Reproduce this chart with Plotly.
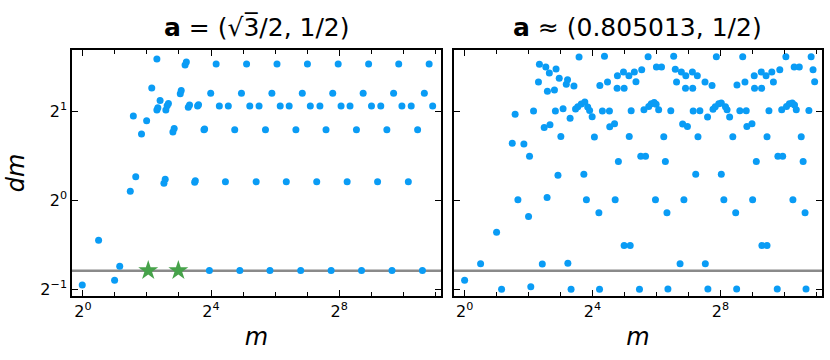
import numpy as np
import plotly.graph_objects as go
from plotly.subplots import make_subplots

# values, in log2 units (m, dm)
left_log2_m = [-0.02, 0.49, 0.99, 1.15, 1.48, 1.575, 1.65, 1.83, 1.99, 2.15, 2.31, 2.31, 2.34,
               2.41, 2.53, 2.57, 2.59, 2.63, 2.67, 2.81, 2.85, 3.04, 3.07, 3.19, 3.23, 3.29,
               3.33, 3.49, 3.51, 3.58, 3.61, 3.78, 3.80, 3.95, 3.99, 4.16, 4.26, 4.45, 4.54,
               4.74, 4.90, 4.95, 5.11, 5.21, 5.41, 5.50, 5.70, 5.84, 5.90, 6.06, 6.16, 6.35,
               6.44, 6.65, 6.80, 6.85, 7.01, 7.10, 7.30, 7.40, 7.59, 7.75, 7.80, 7.97, 8.06,
               8.25, 8.34, 8.54, 8.70, 8.75, 8.92, 9.01, 9.20, 9.30, 9.49, 9.65, 9.70, 9.86,
               9.96, 10.16, 10.25, 10.45, 10.60, 10.66, 10.81, 10.92]
left_log2_dm = [-0.952, -0.449, -0.899, -0.74, 0.10, 0.944, 0.262, 0.742, 0.891, 1.258, 1.584,
                1.011, 1.037, 1.119, 0.191, 0.234, 1.011, 1.06, 1.086, 0.764, 0.805, 1.194,
                1.232, 1.517, 1.55, 1.042, 1.067, 0.202, 0.217, 1.056, 1.071, 0.79, 0.80,
                -0.79, 1.2, 1.528, 1.056, 0.206, 1.056, 0.79, -0.79, 1.2, 1.528, 1.056, 0.206,
                1.056, 0.79, -0.79, 1.2, 1.528, 1.056, 0.206, 1.056, 0.79, -0.79, 1.2, 1.528,
                1.056, 0.206, 1.056, 0.79, -0.79, 1.2, 1.528, 1.056, 0.206, 1.056, 0.79,
                -0.79, 1.2, 1.528, 1.056, 0.206, 1.056, 0.79, -0.79, 1.2, 1.528, 1.056, 0.206,
                1.056, 0.79, -0.79, 1.2, 1.528, 1.056]

star_log2_m = [2.04, 2.98]
star_log2_dm = [-0.79, -0.79]

right_log2_m = [0.0, 0.5, 1.0, 1.156, 1.49, 1.58, 1.667, 1.854, 2.0, 2.03, 2.07, 2.156, 2.31,
                2.34, 2.43, 2.49, 2.54, 2.58, 2.59, 2.65, 2.67, 2.81, 2.84, 2.86, 2.92, 2.96,
                3.01, 3.08, 3.18, 3.22, 3.23, 3.30, 3.33, 3.42, 3.47, 3.54, 3.58, 3.65, 3.73,
                3.76, 3.81, 3.85, 3.91, 3.99, 4.06, 4.20, 4.22, 4.23, 4.31, 4.375, 4.47, 4.53,
                4.54, 4.69, 4.71, 4.77, 4.78, 4.81, 4.97, 4.99, 4.99, 5.14, 5.15, 5.18, 5.21,
                5.31, 5.36, 5.47, 5.51, 5.54, 5.66, 5.61, 5.74, 5.76, 5.84, 5.93, 5.97, 5.99,
                6.0, 6.07, 6.16, 6.23, 6.28, 6.33, 6.36, 6.45, 6.54, 6.59, 6.63, 6.74, 6.78,
                6.82, 6.86, 6.91, 6.92, 6.97, 7.125, 7.135, 7.15, 7.23, 7.28, 7.30, 7.36, 7.52,
                7.53, 7.60, 7.61, 7.74, 7.77, 7.875, 7.84, 7.95, 8.03, 8.03, 8.11, 8.16, 8.21,
                8.29, 8.39, 8.48, 8.51, 8.52, 8.61, 8.70, 8.77, 8.81, 8.83, 8.99, 9.01, 9.06,
                9.07, 9.125, 9.28, 9.29, 9.30, 9.43, 9.46, 9.46, 9.52, 9.61, 9.66, 9.78, 9.80,
                9.86, 9.95, 9.92, 10.05, 10.07, 10.16, 10.25, 10.27, 10.31, 10.32, 10.375,
                10.47, 10.53, 10.59, 10.65, 10.68, 10.77, 10.84, 10.90, 10.95]
right_log2_dm = [-0.899, -0.712, -0.360, -1.0, 0.640, 0.963, 0.004, 0.629, -0.184, 0.494, -0.97,
                 1.0, 1.326, 1.524, -0.715, 0.816, 1.494, 0.03, 1.221, 1.427, 0.846, 1.236, 1.0,
                 1.472, 0.281, 1.367, 0.715, 1.026, 1.30, 1.352, -0.708, 0.918, -1.0, 1.281,
                 1.022, 1.049, 1.607, 1.079, 0.292, 1.101, 0.004, 1.045, 1.007, 0.936, 0.708,
                 -0.142, -1.0, 1.288, 1.0, 1.614, 1.326, 1.0, 0.824, 0.858, 0.004, 1.255, 1.397,
                 0.434, 1.438, -0.509, 1.255, 1.397, 0.715, -0.509, 1.004, 1.438, 1.33, -1.0,
                 0.494, 1.464, 0.494, 1.015, 1.61, 1.052, 1.082, 1.097, 0.004, 1.075, 1.494,
                 1.015, 1.494, 0.712, 0.434, -0.142, -0.996, 1.004, 1.614, 1.468, 1.326, -0.712,
                 1.438, 0.854, 0.004, 1.255, 1.397, 0.828, 1.438, 1.255, 1.0, 0.292, 1.397,
                 0.712, 1.004, 1.326, -0.712, 0.933, -0.996, 1.288, 1.019, 1.61, 1.049, 1.082,
                 1.09, 0.292, 0.004, 1.049, 1.015, 0.933, 0.712, -0.142, -0.996, 1.292, 1.004,
                 1.61, 1.326, 1.004, 0.828, 0.858, 0.004, 1.397, 1.255, 0.434, 1.438, 1.255,
                 -0.509, 1.397, -0.509, 0.712, 1.004, 1.438, 1.326, -0.996, 0.494, 1.464, 0.494,
                 1.015, 1.61, 1.052, 1.082, 1.09, 0.004, 1.494, 1.067, 1.015, 1.494, 0.712,
                 0.434, -0.142, -0.996, 1.007, 1.61, 1.464, 1.33]

line_level = 0.5774  # grey horizontal line, dm ~ 1/sqrt(3)

x_tickvals = [1, 16, 256]
x_ticktext = ["2<sup>0</sup>", "2<sup>4</sup>", "2<sup>8</sup>"]
x_minorvals = [2, 4, 8, 32, 64, 128, 512, 1024, 2048]
y_tickvals = [0.5, 1, 2]
y_ticktext = ["2<sup>\u22121</sup>", "2<sup>0</sup>", "2<sup>1</sup>"]

titles = ["<b>a</b> = (\u221a3\u0305/2, 1/2)", "<b>a</b> \u2248 (0.805013, 1/2)"]

blue = "#0a9cf5"
green = "#46a24a"
font = "DejaVu Sans"

fig = make_subplots(rows=1, cols=2)

fig.add_trace(go.Scatter(x=2 ** np.array(left_log2_m), y=2 ** np.array(left_log2_dm),
                         mode="markers", marker=dict(color=blue, size=7)), row=1, col=1)
fig.add_trace(go.Scatter(x=2 ** np.array(star_log2_m), y=2 ** np.array(star_log2_dm),
                         mode="markers", marker=dict(color=green, size=15, symbol="star")),
              row=1, col=1)
fig.add_trace(go.Scatter(x=2 ** np.array(right_log2_m), y=2 ** np.array(right_log2_dm),
                         mode="markers", marker=dict(color=blue, size=7)), row=1, col=2)

for c in [1, 2]:
    fig.add_hline(y=line_level, line=dict(color="#8a8a8a", width=2.5), layer="below",
                  row=1, col=c)

xr = [np.log10(2) * -0.34, np.log10(2) * 11.18]
yr = [np.log10(2) * -1.075, np.log10(2) * 1.685]

fig.update_xaxes(type="log", range=xr, tickvals=x_tickvals, ticktext=x_ticktext,
                 ticks="inside", ticklen=6, tickwidth=1, tickcolor="black",
                 minor=dict(tickvals=x_minorvals, ticks="inside", ticklen=4, tickcolor="black"),
                 showline=True, linecolor="black", linewidth=1.5, mirror="ticks",
                 showgrid=False, zeroline=False, automargin=False,
                 tickfont=dict(family=font, size=16, color="black"),
                 title=dict(text="<i>m</i>", font=dict(family=font, size=24, color="black"),
                            standoff=8))
fig.update_yaxes(type="log", range=yr, tickvals=y_tickvals, ticktext=y_ticktext,
                 ticks="inside", ticklen=6, tickwidth=1, tickcolor="black",
                 showline=True, linecolor="black", linewidth=1.5, mirror="ticks",
                 showgrid=False, zeroline=False, automargin=False,
                 tickfont=dict(family=font, size=16, color="black"))
fig.update_yaxes(title=dict(text="<i>dm</i>", font=dict(family=font, size=24, color="black"),
                            standoff=9), row=1, col=1)
fig.update_yaxes(showticklabels=False, row=1, col=2)

fig.update_layout(
    width=830, height=360,
    margin=dict(l=72, r=8, t=50, b=64),
    plot_bgcolor="white", paper_bgcolor="white",
    showlegend=False,
    xaxis=dict(domain=[0, 0.492]),
    xaxis2=dict(domain=[0.509, 1]),
)

for i, t in enumerate(titles):
    fig.add_annotation(text=t, xref="x%s domain" % ("" if i == 0 else "2"), yref="paper",
                       x=0.5, y=1, yanchor="bottom", yshift=6, showarrow=False,
                       font=dict(family=font, size=25, color="black"))

# drop the browser's default page margin so the figure sits at the window corner
fig.write_html("out.html", config={"displayModeBar": False},
               post_script="document.body.style.margin='0';")
